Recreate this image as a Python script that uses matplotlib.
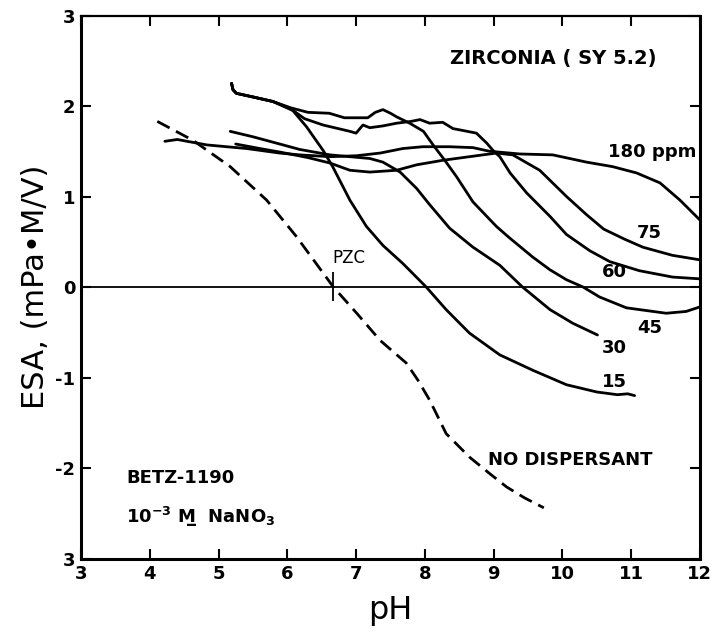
import matplotlib
matplotlib.use("Agg")
import matplotlib.pyplot as plt

# ESA vs pH, zirconia with Betz-1190 dispersant
ph_none = [4.11, 4.63, 5.17, 5.70, 6.13, 6.67, 7.01, 7.35, 7.73, 7.90, 8.07, 8.31, 8.65, 8.94, 9.19, 9.45, 9.73]
esa_none = [1.83, 1.62, 1.33, 0.96, 0.56, 0.00, -0.29, -0.59, -0.84, -1.03, -1.25, -1.62, -1.88, -2.06, -2.21, -2.33, -2.44]

ph_15 = [5.19, 5.21, 5.26, 5.50, 5.79, 6.08, 6.28, 6.52, 6.66, 6.91, 7.15, 7.39, 7.68, 8.02, 8.31, 8.65,
         9.09, 9.57, 10.06, 10.50, 10.80, 10.95, 11.05]
esa_15 = [2.25, 2.18, 2.14, 2.10, 2.05, 1.95, 1.77, 1.51, 1.33, 0.96, 0.67, 0.46, 0.26, 0.00, -0.25, -0.51,
          -0.75, -0.92, -1.08, -1.16, -1.19, -1.18, -1.20]

ph_30 = [5.17, 5.50, 5.89, 6.18, 6.62, 7.20, 7.39, 7.64, 7.88, 8.07, 8.36, 8.70, 9.09, 9.42, 9.82, 10.15, 10.51]
esa_30 = [1.72, 1.66, 1.58, 1.52, 1.46, 1.42, 1.38, 1.27, 1.09, 0.91, 0.65, 0.44, 0.24, 0.00, -0.25, -0.40, -0.53]

ph_45 = [5.19, 5.21, 5.26, 5.50, 5.79, 6.05, 6.30, 6.61, 6.83, 7.17, 7.28, 7.39, 7.50, 7.59, 7.78, 7.98, 8.12,
         8.29, 8.46, 8.70, 9.04, 9.22, 9.57, 9.82, 10.06, 10.30, 10.54, 10.93, 11.51, 11.80, 12.00]
esa_45 = [2.25, 2.18, 2.14, 2.10, 2.05, 1.98, 1.93, 1.92, 1.87, 1.87, 1.93, 1.96, 1.92, 1.88, 1.81, 1.72, 1.57,
          1.40, 1.22, 0.94, 0.67, 0.55, 0.33, 0.19, 0.08, 0.00, -0.11, -0.23, -0.29, -0.27, -0.22]

ph_60 = [5.19, 5.21, 5.26, 5.50, 5.79, 6.05, 6.25, 6.52, 6.91, 7.00, 7.10, 7.20, 7.39, 7.59, 7.80, 7.93, 8.07,
         8.26, 8.41, 8.55, 8.75, 8.90, 8.99, 9.09, 9.24, 9.48, 9.82, 10.06, 10.40, 10.69, 11.12, 11.60, 12.00]
esa_60 = [2.25, 2.18, 2.14, 2.10, 2.05, 1.97, 1.86, 1.79, 1.72, 1.70, 1.79, 1.76, 1.78, 1.81, 1.83, 1.85, 1.81,
          1.82, 1.75, 1.73, 1.70, 1.59, 1.51, 1.44, 1.26, 1.04, 0.78, 0.58, 0.40, 0.28, 0.18, 0.11, 0.09]

ph_75 = [5.25, 5.60, 5.90, 6.30, 6.62, 6.91, 7.20, 7.59, 7.88, 8.26, 8.65, 9.04, 9.28, 9.67, 10.06, 10.35,
         10.60, 10.90, 11.17, 11.60, 12.00]
esa_75 = [1.58, 1.53, 1.49, 1.43, 1.37, 1.29, 1.27, 1.29, 1.35, 1.40, 1.44, 1.48, 1.46, 1.29, 1.00, 0.80,
          0.64, 0.53, 0.44, 0.35, 0.30]

ph_180 = [4.22, 4.40, 4.83, 5.41, 5.89, 6.18, 6.62, 7.00, 7.35, 7.68, 7.97, 8.36, 8.70, 8.94, 9.38, 9.86,
          10.35, 10.73, 11.08, 11.42, 11.71, 12.00]
esa_180 = [1.61, 1.63, 1.57, 1.53, 1.48, 1.46, 1.44, 1.45, 1.48, 1.53, 1.55, 1.55, 1.54, 1.50, 1.47, 1.46,
           1.38, 1.33, 1.26, 1.15, 0.96, 0.74]

pzc_ph = 6.67

xticks = [3, 4, 5, 6, 7, 8, 9, 10, 11, 12]
xticklabels = ["3", "4", "5", "6", "7", "8", "9", "10", "11", "12"]
yticks = [-3, -2, -1, 0, 1, 2, 3]
yticklabels = ["3", "-2", "-1", "0", "1", "2", "3"]

fig = plt.figure(figsize=(7.14, 6.38), dpi=100)
ax = fig.add_axes([0.1134, 0.1246, 0.8669, 0.8511])

lw = 2.0
ax.plot(ph_none, esa_none, color="black", lw=lw, dashes=(5, 2.6))
for xs, ys in [(ph_15, esa_15), (ph_30, esa_30), (ph_45, esa_45),
               (ph_60, esa_60), (ph_75, esa_75), (ph_180, esa_180)]:
    ax.plot(xs, ys, color="black", lw=lw, solid_joinstyle="round", solid_capstyle="round")

ax.axhline(0, color="black", lw=1.3)
ax.vlines(pzc_ph, -0.16, 0.17, color="black", lw=1.3)

ax.set_xlim(3, 12)
ax.set_ylim(-3, 3)
ax.set_xticks(xticks)
ax.set_xticklabels(xticklabels)
ax.set_yticks(yticks)
ax.set_yticklabels(yticklabels)
ax.tick_params(direction="in", length=7, width=1.5, top=True, right=True,
               labelsize=13, pad=5)
ax.tick_params(axis="y", pad=4)
for lab in ax.get_xticklabels() + ax.get_yticklabels():
    lab.set_fontweight("bold")
for s in ax.spines.values():
    s.set_linewidth(2.2)
ax.spines["top"].set_linewidth(1.6)

ax.set_xlabel("pH", fontsize=23, labelpad=8)
ax.set_ylabel("ESA, (mPa\u2022M/V)", fontsize=22, labelpad=4)

tk = dict(fontsize=13, fontweight="bold", color="black")
ax.text(9.87, 2.53, "ZIRCONIA ( SY 5.2)", ha="center", va="center",
        fontsize=14, fontweight="bold", color="black")
ax.text(11.31, 1.49, "180 ppm", ha="center", va="center", **tk)
ax.text(11.27, 0.60, "75", ha="center", va="center", **tk)
ax.text(10.76, 0.17, "60", ha="center", va="center", **tk)
ax.text(11.27, -0.45, "45", ha="center", va="center", **tk)
ax.text(10.76, -0.67, "30", ha="center", va="center", **tk)
ax.text(10.76, -1.05, "15", ha="center", va="center", **tk)
ax.text(6.90, 0.32, "PZC", ha="center", va="center", fontsize=12, color="black")
ax.text(8.92, -1.91, "NO DISPERSANT", ha="left", va="center", **tk)
ax.text(3.66, -2.11, "BETZ-1190", ha="left", va="center", **tk)
ax.text(3.66, -2.54, "10$^{\\mathbf{-3}}$ M\u0332  NaNO$_{\\mathbf{3}}$",
        ha="left", va="center", **tk)

fig.savefig("out.png", dpi=100)
